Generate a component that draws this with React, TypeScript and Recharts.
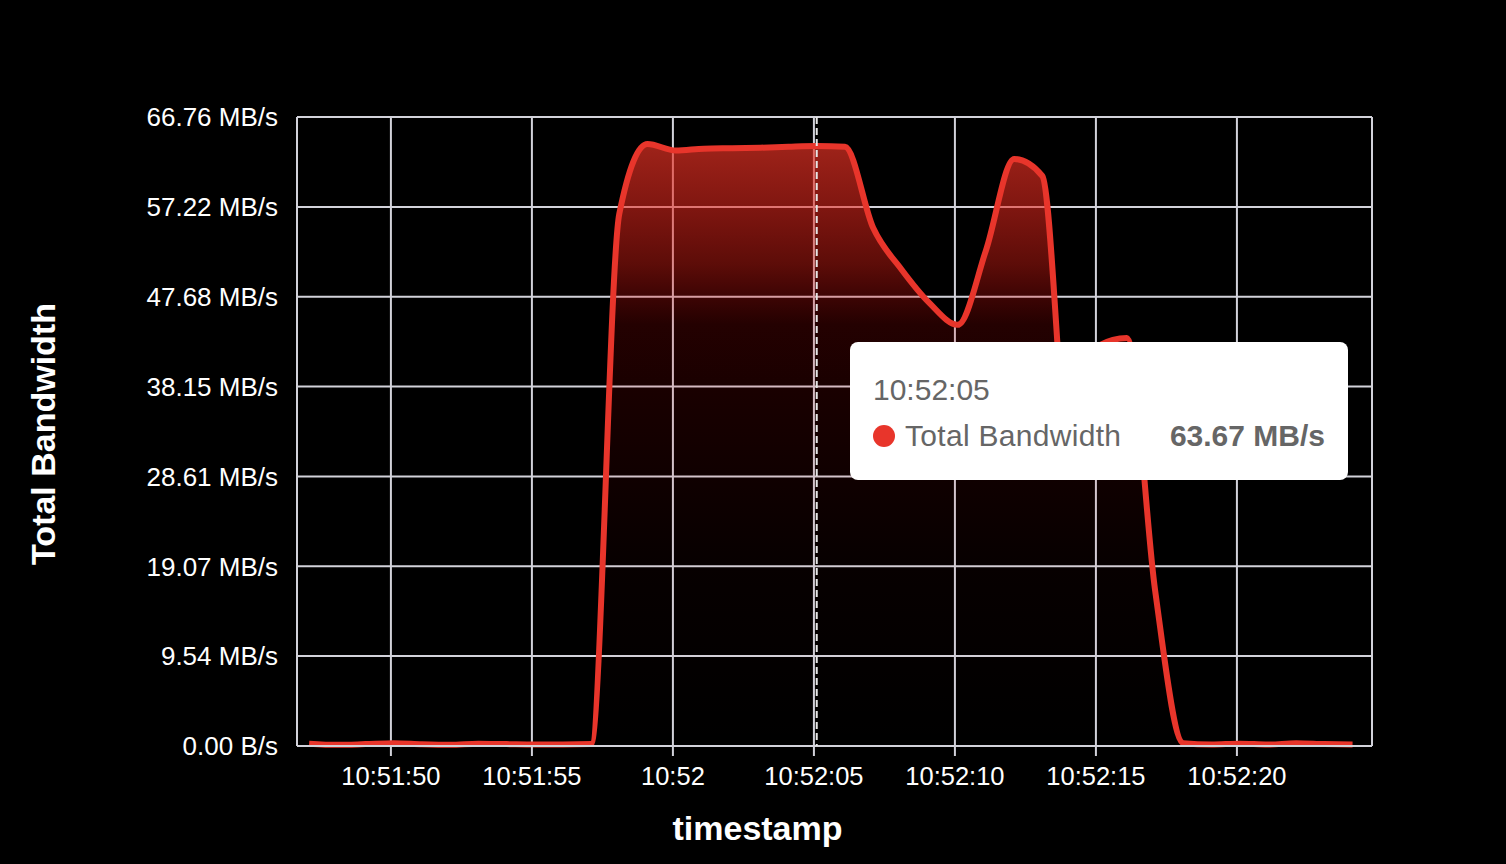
import React from 'react';
import { AreaChart, Area, XAxis, YAxis, CartesianGrid, Tooltip, ReferenceLine } from 'recharts';

const FONT = '"Liberation Sans", Arial, Helvetica, sans-serif';

// sample times, in seconds after 10:51:00
const times = [
  47.1, 48.1, 49.1, 50.1, 51.1, 52.1, 53.1, 54.1, 55.1, 56.1,
  57.1, 58.1, 59.1, 60.1, 61.1, 62.1, 63.1, 64.1, 65.1, 66.1,
  67.1, 68.1, 69.1, 70.1, 71.1, 72.1, 73.1, 74.1, 75.1, 76.1,
  77.1, 78.1, 79.1, 80.1, 81.1, 82.1, 83.1, 84.1,
];

// Total Bandwidth, MB/s
const bandwidth = [
  0.25, 0.12, 0.2, 0.3, 0.18, 0.12, 0.25, 0.2, 0.15, 0.15,
  0.2, 56.5, 63.9, 63.2, 63.4, 63.45, 63.5, 63.6, 63.67, 63.6,
  55.0, 50.6, 47.0, 44.7, 52.6, 62.3, 60.5, 29.0, 42.5, 43.3,
  16.5, 0.3, 0.15, 0.25, 0.15, 0.3, 0.2, 0.15,
];

const xTicks = [50, 55, 60, 65, 70, 75, 80];
const xTickLabels = ['10:51:50', '10:51:55', '10:52', '10:52:05', '10:52:10', '10:52:15', '10:52:20'];
const xDomain = [46.67, 84.79];

const yTicks = [0, 9.54, 19.07, 28.61, 38.15, 47.68, 57.22, 66.76];
const yTickLabels = ['0.00 B/s', '9.54 MB/s', '19.07 MB/s', '28.61 MB/s', '38.15 MB/s', '47.68 MB/s', '57.22 MB/s', '66.76 MB/s'];
const yDomain = [0, 66.76];

const seriesName = 'Total Bandwidth';
const xTitle = 'timestamp';
const yTitle = 'Total Bandwidth';
const activeIndex = 18;

const data = times.map((t, i) => ({ t, bw: bandwidth[i] }));

const LINE = '#e8352b';
const GRID = '#d2d2da';

const fmtTime = (t: number) => {
  const m = 51 + Math.floor(t / 60);
  const s = Math.floor(t % 60);
  return `10:${String(m).padStart(2, '0')}:${String(s).padStart(2, '0')}`;
};

const gradStops = [
  { o: 0, c: 'rgb(234,52,38)', a: 0.68 },
  { o: 0.1, c: 'rgb(232,41,30)', a: 0.56 },
  { o: 0.2, c: 'rgb(232,31,21)', a: 0.4 },
  { o: 0.25, c: 'rgb(226,18,15)', a: 0.28 },
  { o: 0.3, c: 'rgb(225,6,6)', a: 0.16 },
  { o: 0.4, c: 'rgb(226,0,0)', a: 0.115 },
  { o: 0.55, c: 'rgb(229,0,0)', a: 0.07 },
  { o: 0.7, c: 'rgb(230,0,0)', a: 0.03 },
  { o: 0.85, c: 'rgb(230,0,0)', a: 0.015 },
  { o: 1, c: 'rgb(230,0,0)', a: 0 },
];

function TipContent(props: any) {
  const { active, payload, label } = props;
  if (!active || !payload || !payload.length) return null;
  const v = Number(payload[0].value);
  return (
    <div
      style={{
        width: 498,
        height: 138,
        background: '#fff',
        borderRadius: 8,
        boxSizing: 'border-box',
        padding: '33px 23px 0 23px',
        fontFamily: FONT,
        color: '#666',
      }}
    >
      <div style={{ fontSize: 30, lineHeight: '30px', height: 30 }}>{fmtTime(Number(label))}</div>
      <div style={{ display: 'flex', alignItems: 'center', marginTop: 16, height: 30, fontSize: 30, lineHeight: '30px' }}>
        <span style={{ width: 22, height: 22, borderRadius: '50%', background: LINE, marginRight: 10, flex: 'none' }} />
        <span style={{ letterSpacing: 0.3 }}>{payload[0].name}</span>
        <span style={{ marginLeft: 'auto', fontWeight: 'bold' }}>{v.toFixed(2)} MB/s</span>
      </div>
    </div>
  );
}

export default function App() {
  return (
    <div style={{ position: 'fixed', left: 0, top: 0, width: 1506, height: 864, background: '#000' }}>
      <AreaChart
        width={1506}
        height={864}
        data={data}
        margin={{ top: 117, right: 134, bottom: 0, left: 0 }}
        style={{ fontFamily: FONT }}
      >
        <defs>
          <linearGradient id="bwGrad" x1="0" y1="0" x2="0" y2="1">
            {gradStops.map((s) => (
              <stop key={s.o} offset={s.o} stopColor={s.c} stopOpacity={s.a} />
            ))}
          </linearGradient>
        </defs>
        <CartesianGrid stroke={GRID} strokeWidth={2} />
        <XAxis
          dataKey="t"
          type="number"
          domain={xDomain}
          ticks={xTicks}
          allowDataOverflow
          height={118}
          tickFormatter={(v: number) => xTickLabels[xTicks.indexOf(v)] ?? ''}
          tick={{ fill: '#fff', fontSize: 25.5, fontFamily: FONT }}
          tickSize={10}
          tickMargin={11}
          tickLine={{ stroke: GRID, strokeWidth: 2 }}
          axisLine={{ stroke: GRID, strokeWidth: 2 }}
          label={{
            value: xTitle,
            position: 'insideBottom',
            offset: 24,
            dx: -77,
            fill: '#fff',
            fontSize: 34,
            fontWeight: 'bold',
            fontFamily: FONT,
          }}
        />
        <YAxis
          type="number"
          domain={yDomain}
          ticks={yTicks}
          width={297}
          interval={0}
          tickFormatter={(v: number) => yTickLabels[yTicks.indexOf(v)] ?? ''}
          tick={{ fill: '#fff', fontSize: 26, fontFamily: FONT }}
          tickLine={false}
          tickSize={0}
          tickMargin={19}
          axisLine={{ stroke: GRID, strokeWidth: 2 }}
          label={{
            value: yTitle,
            position: 'center',
            angle: -90,
            dx: -106,
            dy: 2.5,
            fill: '#fff',
            fontSize: 34,
            fontWeight: 'bold',
            fontFamily: FONT,
          }}
        />
        <ReferenceLine x={xDomain[1]} stroke={GRID} strokeWidth={2} />
        <Tooltip
          active={true}
          defaultIndex={activeIndex}
          position={{ x: 850, y: 342 }}
          content={<TipContent />}
          cursor={{ stroke: '#e6e6e6', strokeWidth: 2, strokeDasharray: '7 4' }}
          isAnimationActive={false}
          wrapperStyle={{ outline: 'none' }}
        />
        <Area
          type="monotone"
          dataKey="bw"
          name={seriesName}
          stroke={LINE}
          strokeWidth={6}
          fill="url(#bwGrad)"
          fillOpacity={1}
          dot={false}
          activeDot={false}
          isAnimationActive={false}
        />
      </AreaChart>
    </div>
  );
}
